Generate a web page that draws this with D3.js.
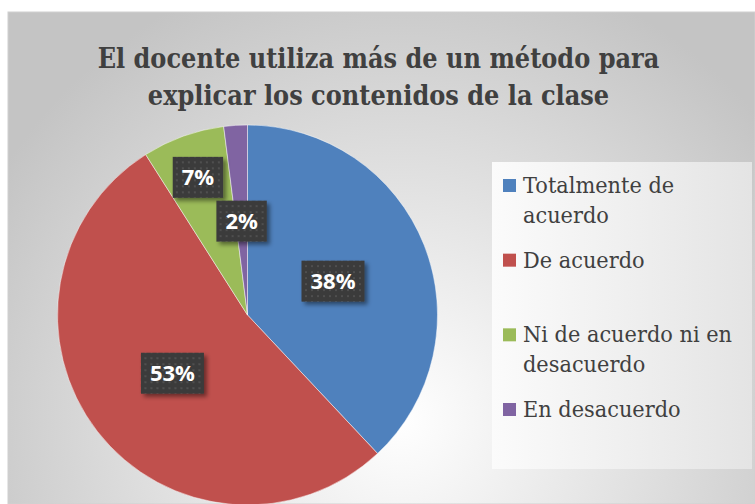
<!DOCTYPE html>
<html>
<head>
<meta charset="utf-8">
<script src="https://cdn.jsdelivr.net/npm/d3@7"></script>
<style>
  body { margin: 0; background: #fff; }
  svg { display: block; }
  .serif { font-family: "DejaVu Serif", "Liberation Serif", serif; }
</style>
</head>
<body>
<div id="chart"></div>
<script>
// Data
const categories = ["Totalmente de acuerdo", "De acuerdo", "Ni de acuerdo ni en desacuerdo", "En desacuerdo"];
const legendLines = [["Totalmente de", "acuerdo"], ["De acuerdo"], ["Ni de acuerdo ni en", "desacuerdo"], ["En desacuerdo"]];
const percents = [38, 53, 7, 2];
const titleLines = ["El docente utiliza más de un método para", "explicar los contenidos de la clase"];

// Styling / layout
const colors = ["#4f81bd", "#c0504d", "#9bbb59", "#8064a2"];
const labelRadius = [0.484, 0.5, 0.77, 0.495]; // fraction of pie radius
const width = 755, height = 504;
// DejaVu Serif is wider than Times, so squeeze it horizontally
const titleSqueeze = 0.86;
const legendSqueeze = 0.95;

const svg = d3.select("#chart").append("svg")
    .attr("width", width)
    .attr("height", height);

const defs = svg.append("defs");

// Background radial gradient
const bg = defs.append("radialGradient")
    .attr("id", "bg")
    .attr("gradientUnits", "userSpaceOnUse")
    .attr("cx", 400).attr("cy", 420).attr("r", 470);
bg.append("stop").attr("offset", "0%").attr("stop-color", "#ffffff");
bg.append("stop").attr("offset", "100%").attr("stop-color", "#c4c4c4");

// Legend gradient
const lg = defs.append("linearGradient")
    .attr("id", "lg")
    .attr("x1", "0%").attr("x2", "100%").attr("y1", "0%").attr("y2", "0%");
lg.append("stop").attr("offset", "0%").attr("stop-color", "#fbfbfb");
lg.append("stop").attr("offset", "100%").attr("stop-color", "#e4e4e4");

// Dotted pattern for the data label boxes
const pat = defs.append("pattern")
    .attr("id", "dots")
    .attr("patternUnits", "userSpaceOnUse")
    .attr("width", 6).attr("height", 6);
pat.append("rect").attr("width", 6).attr("height", 6).attr("fill", "#3b3b3b");
pat.append("rect").attr("x", 2).attr("y", 2).attr("width", 2).attr("height", 2).attr("fill", "#4f4f4f");

const shadow = defs.append("filter")
    .attr("id", "shadow")
    .attr("x", "-30%").attr("y", "-30%").attr("width", "160%").attr("height", "160%");
shadow.append("feDropShadow")
    .attr("dx", 3).attr("dy", 3).attr("stdDeviation", 2)
    .attr("flood-color", "#000").attr("flood-opacity", 0.45);

// Chart area
svg.append("rect")
    .attr("x", 8).attr("y", 12)
    .attr("width", width - 8).attr("height", height - 12)
    .attr("fill", "url(#bg)")
    .attr("stroke", "#d0d0d0")
    .attr("stroke-width", 1);

// Title
svg.append("g").selectAll("text")
    .data(titleLines)
    .enter().append("text")
    .attr("class", "serif")
    .attr("transform", (d, i) => `translate(378.5,${68 + i * 37}) scale(${titleSqueeze},1)`)
    .attr("text-anchor", "middle")
    .attr("font-weight", "bold")
    .attr("font-size", 28)
    .attr("fill", "#404040")
    .text(d => d);

// Pie
const cx = 247.5, cy = 315, radius = 190;
const pie = d3.pie().sort(null).value(d => d);
const arc = d3.arc().innerRadius(0).outerRadius(radius);
const arcs = pie(percents);

const g = svg.append("g").attr("transform", `translate(${cx},${cy})`);

g.selectAll("path")
    .data(arcs)
    .enter().append("path")
    .attr("d", arc)
    .attr("fill", (d, i) => colors[i])
    .attr("stroke", "#ffffff")
    .attr("stroke-opacity", 0.6)
    .attr("stroke-width", 0.8);

// Data labels
const labels = g.selectAll("g.label")
    .data(arcs)
    .enter().append("g")
    .attr("class", "label")
    .attr("transform", (d, i) => {
        const r = radius * labelRadius[i];
        const c = d3.arc().innerRadius(r).outerRadius(r).centroid(d);
        return `translate(${c[0]},${c[1]})`;
    });

labels.append("rect").attr("class", "box");
labels.append("text")
    .attr("text-anchor", "middle")
    .attr("dy", "0.36em")
    .attr("font-family", "'Open Sans', 'Liberation Sans', sans-serif")
    .attr("font-weight", "bold")
    .attr("font-size", 22)
    .attr("fill", "#ffffff")
    .text(d => d.data + "%");

labels.each(function() {
    const sel = d3.select(this);
    const w = sel.select("text").node().getComputedTextLength() + 18;
    const h = 41;
    sel.select("rect")
        .attr("x", -w / 2).attr("y", -h / 2)
        .attr("width", w).attr("height", h)
        .attr("fill", "url(#dots)")
        .attr("filter", "url(#shadow)");
});

// Legend
const legend = svg.append("g");
legend.append("rect")
    .attr("x", 492).attr("y", 162)
    .attr("width", 260).attr("height", 307)
    .attr("fill", "url(#lg)");

const legendY = d3.scaleLinear().domain([0, 3]).range([193, 417]);

const items = legend.selectAll("g.item")
    .data(categories)
    .enter().append("g")
    .attr("class", "item");

items.append("rect")
    .attr("x", 503)
    .attr("y", (d, i) => legendY(i) - 14)
    .attr("width", 13).attr("height", 13)
    .attr("fill", (d, i) => colors[i]);

items.each(function(d, i) {
    d3.select(this).selectAll("text")
        .data(legendLines[i])
        .enter().append("text")
        .attr("class", "serif")
        .attr("font-size", 22)
        .attr("fill", "#404040")
        .attr("transform", (t, j) => `translate(523,${legendY(i) + j * 29.5}) scale(${legendSqueeze},1)`)
        .text(t => t);
});
</script>
</body>
</html>
